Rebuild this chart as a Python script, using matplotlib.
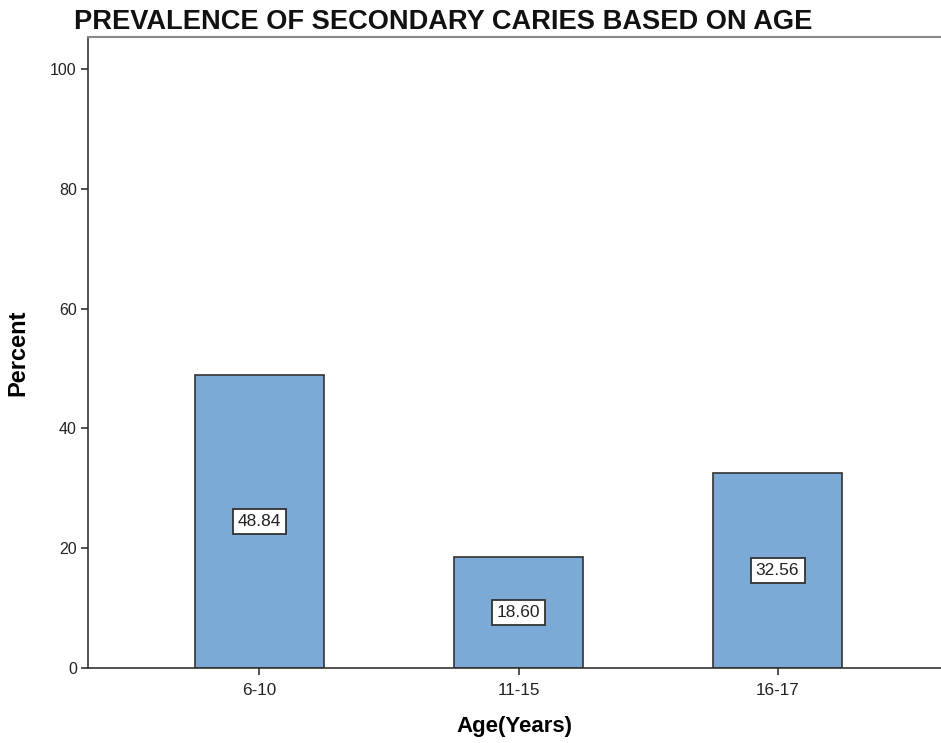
import matplotlib.pyplot as plt

plt.rcParams['font.family'] = ['Liberation Sans', 'DejaVu Sans']

# Persentase karies sekunder per kelompok umur
kelompok_umur = ['6-10', '11-15', '16-17']
persen = [48.84, 18.60, 32.56]

fig = plt.figure(figsize=(9.41, 7.43), dpi=100)
ax = fig.add_axes([0.0935, 0.101, 0.9065, 0.849])

posisi = range(len(kelompok_umur))
ax.bar(posisi, persen, width=0.5, color='#7BAAD6', edgecolor='#333333', linewidth=1.2, zorder=2)

# Label nilai di tengah batang
for i, nilai in enumerate(persen):
    ax.text(i, nilai / 2, f'{nilai:.2f}', ha='center', va='center', fontsize=12.5, color='#222222',
            bbox=dict(boxstyle='square,pad=0.3', facecolor='white', edgecolor='#333333', linewidth=1.3),
            zorder=3)

ax.set_xlim(-0.662, 2.631)
ax.set_ylim(0, 105.3)
ax.set_yticks([0, 20, 40, 60, 80, 100])
ax.set_xticks(list(posisi))
ax.set_xticklabels(kelompok_umur)
ax.tick_params(axis='both', color='#333333', labelcolor='#222222', length=5, width=1.2)
ax.tick_params(axis='x', labelsize=12.3, pad=6)
ax.tick_params(axis='y', labelsize=11.5, pad=3)

ax.spines['right'].set_visible(False)
for s in ['left', 'bottom']:
    ax.spines[s].set_color('#333333')
    ax.spines[s].set_linewidth(1.2)
ax.spines['top'].set_color('#888888')
ax.spines['top'].set_linewidth(1.5)

ax.set_xlabel('Age(Years)', fontsize=16, fontweight='bold', labelpad=13)
ax.set_ylabel('Percent', fontsize=17, fontweight='bold', labelpad=15)

fig.text(0.4705, 0.970, 'PREVALENCE OF SECONDARY CARIES BASED ON AGE', ha='center', va='center',
         fontsize=19.6, fontweight='bold', color='#111111')

fig.savefig('out.png', dpi=100)
